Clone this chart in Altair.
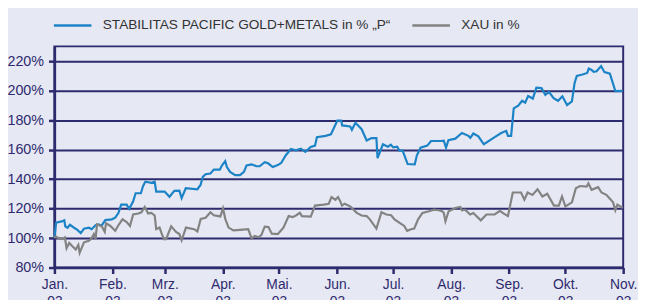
import altair as alt
import pandas as pd
import json

# ---- data (days since 1 Jan, value in %) ----
p_days = [0.0, 0.9, 4.4, 5.3, 5.8, 7.0, 8.3, 10.5, 12.3, 14.1, 15.8, 18.4, 19.9, 22.0, 23.7, 25.1,
          27.2, 30.7, 32.5, 34.2, 35.7, 38.6, 40.0, 42.1, 43.4, 46.2, 47.4, 48.6, 51.8, 53.6, 54.4,
          58.9, 61.5, 64.1, 66.8, 68.0, 70.2, 76.4, 78.1, 79.3, 80.8, 83.4, 85.2, 88.4, 89.6, 91.3,
          92.2, 93.9, 96.6, 99.2, 101.3, 102.7, 105.4, 108.0, 109.7, 112.4, 114.2, 116.7, 119.4,
          121.2, 123.6, 126.4, 129.1, 131.7, 134.1, 137.0, 139.3, 140.3, 144.9, 147.8, 149.5, 151.2,
          153.3, 153.8, 158.1, 159.0, 160.9, 164.2, 166.9, 169.5, 172.1, 172.7, 175.6, 178.2, 179.8,
          181.1, 183.2, 184.4, 186.1, 188.8, 192.6, 193.7, 195.7, 199.3, 201.3, 206.4, 208.1, 209.3,
          210.6, 214.3, 217.8, 221.3, 222.3, 223.9, 226.6, 229.5, 234.5, 238.8, 241.5, 242.4, 244.1,
          245.5, 247.9, 250.0, 251.6, 253.2, 255.7, 257.6, 260.3, 262.4, 264.3, 266.8, 269.2, 271.5,
          274.0, 276.6, 278.0, 279.2, 282.2, 284.8, 285.6, 287.1, 288.2, 289.8, 292.2, 294.0, 296.9,
          299.8, 303.8]
p_vals = [100, 110.4, 111.5, 112, 108, 107, 109, 107, 105.5, 103.3, 106.4, 107, 106, 108.7, 109.3, 108.2,
          112.2, 112.7, 113.8, 117, 122.7, 122.7, 119.8, 124.9, 130.4, 130.4, 135.3, 138.2, 137.5, 138.2, 131.5,
          131.5, 128.0, 132, 132.2, 127.1, 133.8, 133.1, 136, 141.5, 143.3, 143.8, 146.4, 146.4, 149.3, 152.2,
          148.2, 144.9, 142.7, 142.7, 144.9, 149.3, 150, 148.7, 148.7, 151.5, 150.7, 148.2, 149.5,
          150.9, 156, 160.4, 159.5, 160.6, 158.5, 161.8, 162.7, 168.4, 169.3, 170.4, 175, 179.6,
          179.6, 176.4, 175.7, 173.4, 178.2, 173.8, 166.2, 167.8, 167.8, 154.2, 163.6, 162, 163.3,
          161.5, 162, 159.3, 159.3, 150.2, 150, 156, 161.3, 162.7, 165.8, 165.8, 166, 161.3,
          166.4, 167.4, 171.3, 169.3, 168, 170.9, 169, 163.6, 167.8, 171.2, 172.7, 169.3, 169.3,
          188, 189.8, 193.1, 191.8, 196.3, 194.6, 202, 201.7, 197.1, 199.1, 194.9, 193.1, 196.1,
          190.2, 192.7, 205, 210, 210.9, 212, 215, 214, 212.7, 213.1, 216.6, 212.5, 211.5,
          199.6, 199.8]

x_days = [0.0, 0.5, 2.6, 4.4, 5.6, 6.5, 7.9, 9.6, 11.4, 12.8, 13.5, 15.8, 18.4, 19.9, 21.1, 22.0,
          22.8, 25.4, 26.9, 27.6, 29.9, 32.5, 34.2, 36.4, 38.6, 40.4, 42.1, 44.8, 46.5, 48.3, 50.1,
          51.8, 53.6, 54.4, 56.2, 57.1, 58.5, 59.7, 62.4, 65.0, 66.8, 68.0, 70.3, 74.7, 76.4, 78.2,
          80.8, 83.4, 85.2, 88.7, 90.1, 91.4, 93.1, 95.7, 99.2, 103.6, 105.4, 107.1, 109.1, 110.6,
          112.4, 114.4, 116.2, 119.4, 122.4, 125.2, 127.3, 129.1, 131.2, 132.3, 137.0, 139.3, 144.0,
          146.6, 148.1, 150.2, 151.6, 152.8, 153.7, 155.1, 158.1, 161.6, 164.2, 166.9, 168.6, 172.1,
          174.8, 177.4, 180.0, 181.8, 184.9, 187.0, 188.5, 190.6, 192.3, 194.4, 196.7, 200.2, 202.8,
          205.5, 207.2, 208.1, 209.0, 210.7, 214.3, 216.9, 217.8, 219.5, 222.2, 223.9, 227.9, 230.9,
          235.3, 238.1, 240.0, 242.4, 245.0, 249.4, 251.2, 252.9, 255.5, 258.2, 260.8, 263.4, 267.0,
          269.6, 271.3, 273.1, 276.6, 278.7, 280.9, 284.5, 285.4, 287.1, 290.6, 292.4, 295.0, 298.6,
          299.8, 300.9, 303.8]
x_vals = [100, 101, 99.8, 99.3, 100.4, 93.1, 96.7, 94.4, 92.2, 95.3, 90, 97.1, 98.2, 99.8, 102.7, 99.3,
          109.3, 107.8, 104.2, 110, 108.2, 104.9, 108.7, 112.7, 110.9, 108.2, 116, 116.7, 117.5, 121.1, 116.7,
          117.1, 115.3, 106, 107.1, 103.8, 99.3, 99.3, 108, 104.2, 102.7, 98.5, 107.1, 106, 104.5, 113,
          113.8, 117.5, 115.5, 114.7, 120.1, 112.7, 107.1, 105.2, 105.5, 106, 99.8, 101.5, 100.6, 102,
          107.8, 107.5, 103, 102.7, 107.1, 114.9, 114.2, 115.3, 117.1, 114.9, 114.5, 122, 122.7,
          123.3, 127.8, 126, 127.8, 124.9, 122, 123.3, 121.5, 117.1, 115.3, 114.9, 112.7, 106.4,
          117.5, 116, 115.5, 112.7, 110, 108.2, 104.9, 106, 106.4, 112.7, 117.1, 118.2, 119.3,
          118.9, 118.2, 117.1, 111.5, 118.2, 120.4, 121.1, 118.9, 119.3, 116, 117, 112, 116,
          116, 118.5, 116.7, 114.9, 130.9, 130.9, 126, 130.9, 129.3, 133.1, 128.2, 130, 122,
          122, 128.2, 121.5, 124.2, 133.8, 135.3, 134.9, 137.1, 132.7, 134.5, 130.9, 129.3, 124.2,
          118.9, 122.7, 120.4]

series_names = ["STABILITAS PACIFIC GOLD+METALS in % \u201eP\u201c", "XAU in %"]
series_colors = ["#1c84c6", "#838383"]
month_labels = ["Jan.", "Feb.", "Mrz.", "Apr.", "Mai.", "Jun.", "Jul.", "Aug.", "Sep.", "Okt.", "Nov.", "Dez."]
year_label = "03"
y_ticks = [80, 100, 120, 140, 160, 180, 200, 220]

start = pd.Timestamp("2003-01-01")
rows = []
for d, v in zip(p_days, p_vals):
    rows.append({"date": start + pd.Timedelta(hours=d * 24), "value": v, "series": series_names[0]})
for d, v in zip(x_days, x_vals):
    rows.append({"date": start + pd.Timedelta(hours=d * 24), "value": v, "series": series_names[1]})
df = pd.DataFrame(rows)
df["date"] = df["date"].dt.strftime("%Y-%m-%dT%H:%M:%S")

navy = "#2e2a6e"
bg = "#e6e8f4"

month_ticks = [alt.DateTime(year=2003, month=m, date=1) for m in range(1, 12)]
label_expr = "[" + json.dumps(month_labels) + "[month(datum.value)], '" + year_label + "']"

chart = alt.Chart(df).mark_line(strokeWidth=2.2).encode(
    x=alt.X("date:T",
            scale=alt.Scale(domain=[alt.DateTime(year=2003, month=1, date=1),
                                    alt.DateTime(year=2003, month=11, date=1)]),
            axis=alt.Axis(title=None, values=month_ticks, labelExpr=label_expr, grid=False,
                          tickSize=6, tickColor=navy, tickWidth=2.5, domainColor=navy, domainWidth=2.5,
                          labelColor=navy, labelFont="Liberation Sans", labelFontSize=14,
                          labelPadding=4, labelOverlap=False, labelBound=False, labelFlush=False,
                          labelLineHeight=17)),
    y=alt.Y("value:Q", scale=alt.Scale(domain=[80, 230], nice=False, zero=False),
            axis=alt.Axis(title=None, values=y_ticks, labelExpr="datum.value + '%'", grid=True,
                          gridColor=navy, gridWidth=2, tickSize=6, tickColor=navy, tickWidth=2.5,
                          domainColor=navy, domainWidth=2.5, labelColor=navy,
                          labelFont="Liberation Sans", labelFontSize=14.5, labelPadding=5)),
    color=alt.Color("series:N",
                    scale=alt.Scale(domain=series_names, range=series_colors),
                    sort=series_names,
                    legend=alt.Legend(title=None, orient="none", direction="horizontal",
                                      legendX=-2, legendY=-42, symbolType="stroke",
                                      symbolSize=1444, symbolStrokeWidth=2.5,
                                      labelFont="Liberation Sans", labelFontSize=13.8,
                                      labelColor="#333333", labelOffset=10, columnPadding=16,
                                      labelLimit=0, padding=0)),
).properties(
    width=576, height=224,
    autosize=alt.AutoSizeParams(type="none"),
    padding={"left": 47, "top": 37, "right": 15, "bottom": 31},
    background=bg,
).configure_view(stroke=navy, strokeWidth=2, fill=bg)

chart.save("out.html", embed_options={"renderer": "svg", "actions": False})
